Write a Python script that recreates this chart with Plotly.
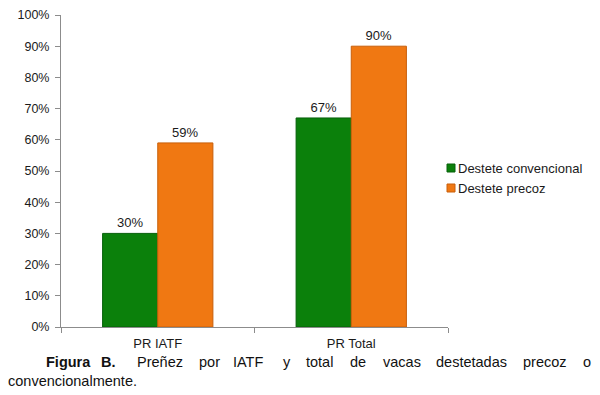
import plotly.graph_objects as go

categories = ["PR IATF", "PR Total"]
convencional = [0.30, 0.67]
precoz = [0.59, 0.90]
series_names = ["Destete convencional", "Destete precoz"]
series_colors = ["#0b800b", "#f07812"]
series_edges = ["#06600a", "#c85f0a"]
tick_vals = [i / 10 for i in range(11)]
tick_text = [f"{i*10}%" for i in range(11)]

FONT = "Liberation Sans, Arial, sans-serif"
BODY = 8  # page body margin offset in the browser
# plot area in window pixel coordinates
PX_L, PX_R, PX_T, PX_B = 61, 448, 15, 327
W, H = 600 - BODY, 395 - BODY
L, T = PX_L - BODY, PX_T - BODY
R = W - (PX_R - BODY)
B = H - (PX_B - BODY)
PW = PX_R - PX_L
PH = PX_B - PX_T


def px_x(px):
    return (px - PX_L) / PW


def px_y(py):
    return (PX_B - py) / PH


fig = go.Figure()
for name, vals, col, edge in zip(series_names, [convencional, precoz], series_colors, series_edges):
    fig.add_trace(go.Bar(
        x=categories, y=vals, name=name, showlegend=False,
        marker=dict(color=col, line=dict(color=edge, width=1)),
        text=[f"{v*100:.0f}%" for v in vals], textposition="outside",
        textfont=dict(size=13, color="#1a1a1a", family=FONT), cliponaxis=False,
    ))

annotations = []
shapes = []
# legend (squares + labels)
for i, (name, col, edge) in enumerate(zip(series_names, series_colors, series_edges)):
    cy = 168 + 20 * i
    shapes.append(dict(type="rect", xref="paper", yref="paper",
                       x0=px_x(447), x1=px_x(455), y0=px_y(cy + 4), y1=px_y(cy - 4),
                       fillcolor=col, line=dict(color=edge, width=1)))
    annotations.append(dict(text=name, x=px_x(456), y=px_y(cy), xref="paper", yref="paper",
                            xanchor="left", yanchor="middle", showarrow=False,
                            font=dict(size=13, color="#1a1a1a", family=FONT)))

# caption words (justified line)
words1 = [("<b>Figura</b>", 45), ("<b>B.</b>", 100), ("Preñez", 136), ("por", 198),
          ("IATF", 232), ("y", 282), ("total", 305), ("de", 349), ("vacas", 382),
          ("destetadas", 435), ("precoz", 522), ("o", 582)]
for w, xp in words1:
    annotations.append(dict(text=w, x=px_x(xp - 1), y=px_y(362), xref="paper", yref="paper",
                            xanchor="left", yanchor="middle", showarrow=False,
                            font=dict(size=14.5, color="#111111", family=FONT)))
annotations.append(dict(text="convencionalmente.", x=px_x(6), y=px_y(381), xref="paper",
                        yref="paper", xanchor="left", yanchor="middle", showarrow=False,
                        font=dict(size=14.5, color="#111111", family=FONT)))

fig.update_layout(
    width=W, height=H,
    margin=dict(l=L, r=R, t=T, b=B, autoexpand=False),
    paper_bgcolor="white", plot_bgcolor="white",
    barmode="group", bargap=0.43, bargroupgap=0,
    font=dict(family=FONT, size=13, color="#1a1a1a"),
    annotations=annotations, shapes=shapes,
    showlegend=False,
)
fig.update_yaxes(range=[0, 1], tickvals=tick_vals, ticktext=tick_text, automargin=False,
                 showgrid=False, zeroline=False, showline=True, linecolor="#8c8c8c",
                 linewidth=1, ticks="outside", ticklen=5, tickcolor="#8c8c8c",
                 ticklabelstandoff=3,
                 tickfont=dict(size=12.5, family=FONT, color="#1a1a1a"))
fig.update_xaxes(showgrid=False, showline=True, linecolor="#8c8c8c", linewidth=1,
                 automargin=False,
                 ticks="outside", ticklen=5, tickcolor="#8c8c8c", tickson="boundaries",
                 ticklabelstandoff=4,
                 tickfont=dict(size=13, family=FONT, color="#1a1a1a"))

fig.write_html("out.html")
